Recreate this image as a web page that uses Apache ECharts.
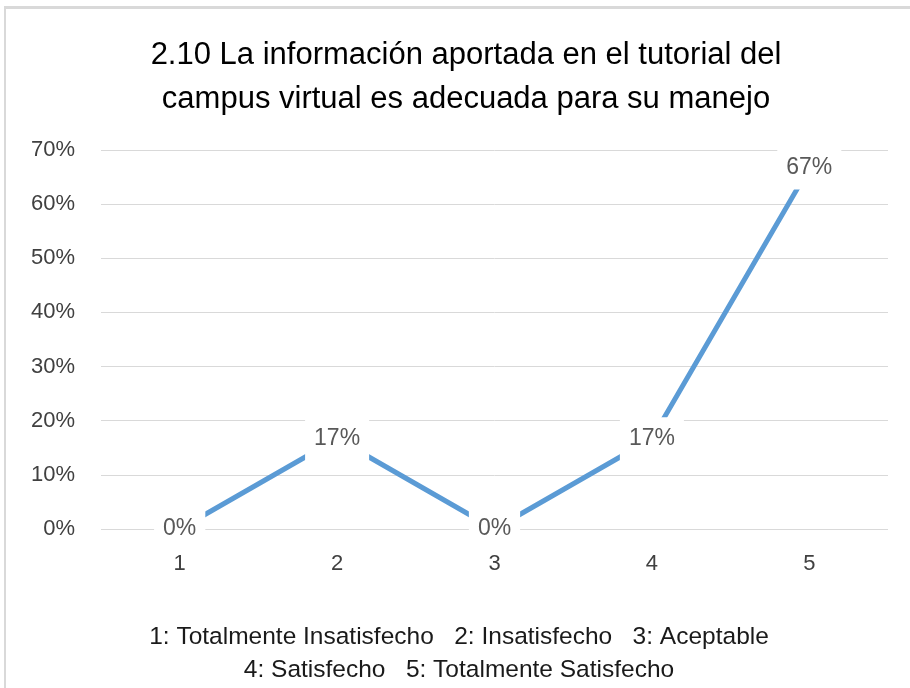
<!DOCTYPE html>
<html lang="es">
<head>
    <meta charset="utf-8">
    <title>2.10</title>
    <script src="https://cdn.jsdelivr.net/npm/echarts@6/dist/echarts.min.js"></script>
    <style type="text/css">
        html, body { margin: 0; padding: 0; background: #fff; }
        #frame {
            position: absolute; left: 4px; top: 6px; width: 920px; height: 700px;
            border-left: 2px solid #d9d9d9; border-top: 3px solid #d9d9d9;
        }
        #container { position: absolute; left: 0; top: 0; width: 910px; height: 688px; }
    </style>
</head>
<body>
<div id="frame"></div>
<div id="container"></div>
<script>
    // datos
    var categorias = ['1', '2', '3', '4', '5'];
    var valores = [0, 16.67, 0, 16.67, 66.67];
    var ticksY = [0, 10, 20, 30, 40, 50, 60, 70];
    var titulo = '2.10 La información aportada en el tutorial del\ncampus virtual es adecuada para su manejo';
    var leyenda = '1: Totalmente Insatisfecho   2: Insatisfecho   3: Aceptable\n4: Satisfecho   5: Totalmente Satisfecho';

    var fuente = 'Liberation Sans';
    var myChart = echarts.init(document.getElementById('container'));
    var option = {
        animation: false,
        // titulo y nota de la escala como texto centrado
        graphic: [{
            type: 'text',
            x: 466,
            y: 33,
            style: {
                text: titulo, align: 'center', verticalAlign: 'top',
                fontFamily: fuente, fontSize: 31, lineHeight: 44, fill: '#000'
            }
        }, {
            type: 'text',
            x: 459,
            y: 621,
            style: {
                text: leyenda, align: 'center', verticalAlign: 'top',
                fontFamily: fuente, fontSize: 24.5, lineHeight: 33, fill: '#1a1a1a'
            }
        }],
        grid: { left: 101, right: 22, top: 150, bottom: 159 },
        xAxis: {
            type: 'category',
            data: categorias,
            boundaryGap: true,
            axisLine: { show: false },
            axisTick: { show: false },
            axisLabel: { fontFamily: fuente, fontSize: 22, color: '#404040', margin: 24 }
        },
        yAxis: {
            type: 'value',
            min: ticksY[0],
            max: ticksY[ticksY.length - 1],
            interval: 10,
            axisLine: { show: false },
            axisTick: { show: false },
            splitLine: { lineStyle: { color: '#d9d9d9', width: 1 } },
            axisLabel: {
                fontFamily: fuente, fontSize: 22, color: '#404040', margin: 26,
                formatter: function (v) { return v + '%'; }
            }
        },
        series: [{
            type: 'line',
            data: valores,
            symbol: 'circle',
            symbolSize: 1,
            itemStyle: { color: '#5b9bd5' },
            lineStyle: { color: '#5b9bd5', width: 5, cap: 'butt' },
            label: {
                show: true,
                position: 'inside',
                fontFamily: fuente,
                fontSize: 23,
                color: '#595959',
                backgroundColor: '#fff',
                padding: [10, 9],
                formatter: function (p) { return Math.round(p.value) + '%'; }
            }
        }]
    };
    myChart.setOption(option, true);
</script>
</body>
</html>
